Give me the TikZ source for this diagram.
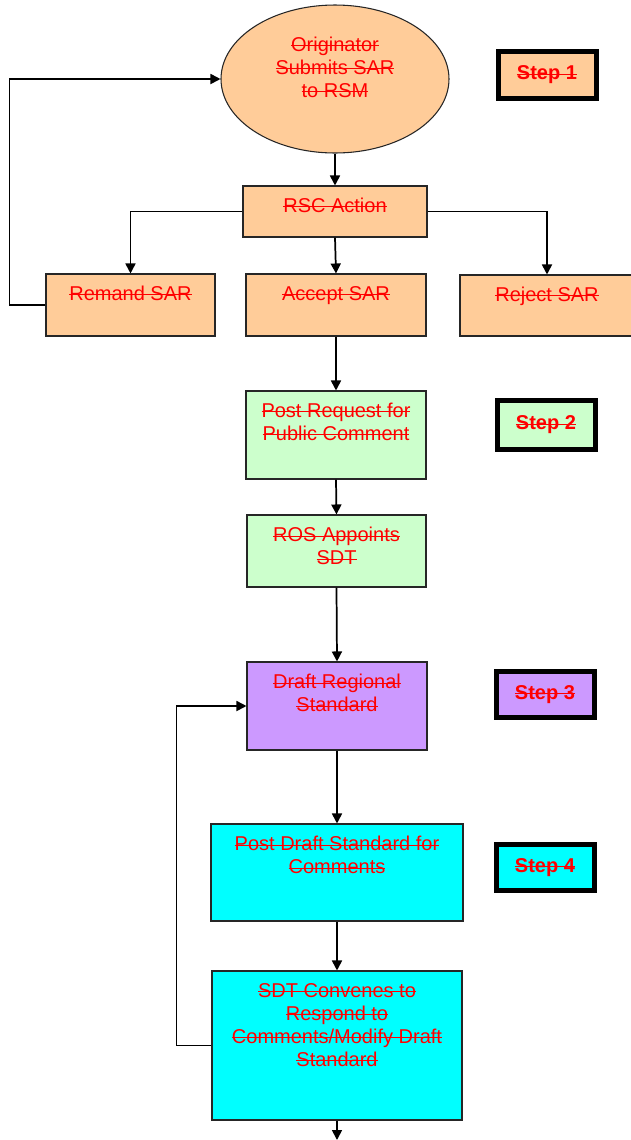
\documentclass[tikz,border=0pt]{standalone}
\usepackage{fontspec}
\setmainfont{Liberation Sans}
\usepackage{tikz}
\usetikzlibrary{shapes,arrows.meta,positioning,calc}
\definecolor{sarpeach}{HTML}{FFCC99}
\definecolor{sargreen}{HTML}{CCFFCC}
\definecolor{sarpurple}{HTML}{CC99FF}
\definecolor{sarcyan}{HTML}{00FFFF}
\definecolor{sarred}{HTML}{FF0000}
% struck-through text
\newsavebox{\sarstrikebox}
\newcommand{\sarstrike}[1]{\sbox{\sarstrikebox}{#1}\usebox{\sarstrikebox}%
  \llap{\rule[0.27em]{\wd\sarstrikebox}{0.75pt}}}

\begin{document}
\begin{tikzpicture}[
    x=0.75pt, y=-0.75pt,
    every node/.style={font=\fontsize{15pt}{17.25pt}\selectfont},
    box/.style={rectangle, draw=black!85, line width=0.8pt, inner sep=0pt},
    boxtext/.style={text=sarred, align=center, inner sep=0pt, anchor=north, yshift=-9.5pt},
    stepbox/.style={rectangle, draw=black, line width=3.75pt, minimum width=73.5pt,
                    minimum height=35.25pt, text=sarred,
                    font=\fontsize{15pt}{17.25pt}\selectfont\bfseries},
    flow/.style={draw=black, line width=1.3pt, -{Triangle[width=7.5pt,length=7.5pt]}}
]
    \clip (0,0) rectangle (631,1140);

    % SAR submission and RSC decision
    \node[box, ellipse, fill=sarpeach, minimum width=171pt, minimum height=111pt,
          label={[boxtext, yshift=-15pt]north:{\sarstrike{Originator}\\\sarstrike{Submits SAR}\\\sarstrike{to RSM}}}] (orig) at (335,79) {};
    \node[box, fill=sarpeach, minimum width=138pt, minimum height=38.25pt,
          label={[boxtext]north:{\sarstrike{RSC Action}}}] (rsc) at (335,211.5) {};
    \node[box, fill=sarpeach, minimum width=126.75pt, minimum height=46.5pt,
          label={[boxtext]north:{\sarstrike{Remand SAR}}}] (remand) at (130.5,305) {};
    \node[box, fill=sarpeach, minimum width=135pt, minimum height=46.5pt,
          label={[boxtext]north:{\sarstrike{Accept SAR}}}] (accept) at (336,305) {};
    \node[box, fill=sarpeach, minimum width=130.5pt, minimum height=45.75pt,
          label={[boxtext]north:{\sarstrike{Reject SAR}}}] (reject) at (547,305.5) {};

    % Public comment and drafting team
    \node[box, fill=sargreen, minimum width=135pt, minimum height=66pt,
          label={[boxtext]north:{\sarstrike{Post Request for}\\\sarstrike{Public Comment}}}] (postreq) at (336,435) {};
    \node[box, fill=sargreen, minimum width=134.25pt, minimum height=54pt,
          label={[boxtext]north:{\sarstrike{ROS Appoints}\\\sarstrike{SDT}}}] (ros) at (336.5,551) {};

    % Drafting and comments
    \node[box, fill=sarpurple, minimum width=135pt, minimum height=66pt,
          label={[boxtext]north:{\sarstrike{Draft Regional}\\\sarstrike{Standard}}}] (draft) at (337,706) {};
    \node[box, fill=sarcyan, minimum width=189pt, minimum height=72.75pt,
          label={[boxtext]north:{\sarstrike{Post Draft Standard for}\\\sarstrike{Comments}}}] (postdraft) at (337,872.5) {};
    \node[box, fill=sarcyan, minimum width=187.5pt, minimum height=111.75pt,
          label={[boxtext]north:{\sarstrike{SDT Convenes to}\\\sarstrike{Respond to}\\\sarstrike{Comments/Modify Draft}\\\sarstrike{Standard}}}] (sdt) at (337,1045.5) {};
    \coordinate (next) at (337,1140);

    % Step markers
    \node[stepbox, fill=sarpeach] (step1) at (547,75) {\sarstrike{Step 1}};
    \node[stepbox, fill=sargreen, minimum height=36.75pt] (step2) at (546,425) {\sarstrike{Step 2}};
    \node[stepbox, fill=sarpurple, minimum height=34.5pt] (step3) at (545,694.5) {\sarstrike{Step 3}};
    \node[stepbox, fill=sarcyan, minimum height=34.5pt] (step4) at (545,867.5) {\sarstrike{Step 4}};

    % Connectors
    \draw[flow] (orig.south) -- (rsc.north);
    \draw[flow] (rsc.west) -| (remand.north);
    \draw[flow] (rsc.south) -- (accept.north);
    \draw[flow] (rsc.east) -| (reject.north);
    \draw[flow] (remand.west) -- ++(-36,0) |- (orig.west);
    \draw[flow] (accept.south) -- (postreq.north);
    \draw[flow] (postreq.south) -- (ros.north);
    \draw[flow] (ros.south) -- (draft.north);
    \draw[flow] (draft.south) -- (postdraft.north);
    \draw[flow] (postdraft.south) -- (sdt.north);
    \draw[flow] (sdt.west) -- ++(-35,0) |- (draft.west);
    \draw[flow] (sdt.south) -- (next);
\end{tikzpicture}
\end{document}
